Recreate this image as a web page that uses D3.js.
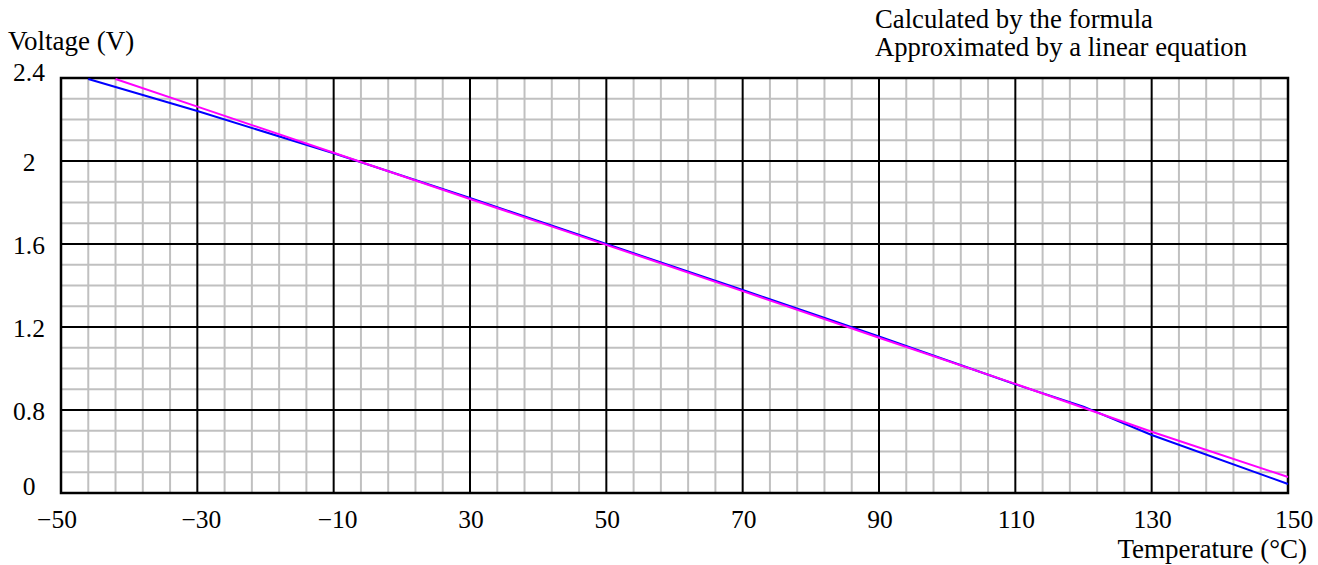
<!DOCTYPE html>
<html>
<head>
<meta charset="utf-8">
<script src="https://cdn.jsdelivr.net/npm/d3@7"></script>
<style>
  html, body { margin: 0; padding: 0; background: #fff; }
  svg { display: block; }
  text { font-family: "Liberation Serif", "DejaVu Serif", serif; fill: #000; }
</style>
</head>
<body>
<svg id="chart" width="1318" height="565"></svg>
<script>
// ---- data ----
const xTickLabels = [-50, -30, -10, 30, 50, 70, 90, 110, 130, 150];
const yTickLabels = [0, 0.8, 1.2, 1.6, 2, 2.4];

const calcTemps  = [-46, -30, -10, 30, 50, 70, 90, 110, 120, 130, 150];
const calcVolts  = [2.395, 2.241, 2.037, 1.822, 1.600, 1.378, 1.154, 0.924, 0.816, 0.559, 0.087];

const approxTemps = [-42, -30, -10, 30, 50, 70, 90, 110, 130, 150];
const approxVolts = [2.395, 2.262, 2.040, 1.817, 1.596, 1.373, 1.148, 0.926, 0.591, 0.154];

const legendLabels = ["Calculated by the formula", "Approximated by a linear equation"];
const xTitle = "Temperature (\u00B0C)";
const yTitle = "Voltage (V)";

// ---- layout ----
const plotLeft = 61, plotRight = 1288, plotTop = 78, plotBottom = 493;
const svg = d3.select("#chart");

const xStep = (plotRight - plotLeft) / (xTickLabels.length - 1);
const yStep = (plotBottom - plotTop) / (yTickLabels.length - 1);
const x = d3.scaleLinear().domain(xTickLabels).range(xTickLabels.map((d, i) => plotLeft + i * xStep));
const y = d3.scaleLinear().domain(yTickLabels).range(yTickLabels.map((d, i) => plotBottom - i * yStep));

// minor grid values
const xMinor = [];
for (let i = 0; i < xTickLabels.length - 1; i++) {
  for (let k = 1; k < 5; k++) xMinor.push(xTickLabels[i] + k * (xTickLabels[i + 1] - xTickLabels[i]) / 5);
}
const yMinor = [];
for (let i = 0; i < yTickLabels.length - 1; i++) {
  for (let k = 1; k < 4; k++) yMinor.push(yTickLabels[i] + k * (yTickLabels[i + 1] - yTickLabels[i]) / 4);
}

const grid = svg.append("g");
grid.selectAll("line.xm").data(xMinor).join("line")
  .attr("class", "xm")
  .attr("x1", d => x(d)).attr("x2", d => x(d)).attr("y1", plotTop).attr("y2", plotBottom)
  .attr("stroke", "#c0c0c0").attr("stroke-width", 2);
grid.selectAll("line.ym").data(yMinor).join("line")
  .attr("class", "ym")
  .attr("y1", d => y(d)).attr("y2", d => y(d)).attr("x1", plotLeft).attr("x2", plotRight)
  .attr("stroke", "#c0c0c0").attr("stroke-width", 2);

grid.selectAll("line.xM").data(xTickLabels).join("line")
  .attr("class", "xM")
  .attr("x1", d => x(d)).attr("x2", d => x(d)).attr("y1", plotTop).attr("y2", plotBottom)
  .attr("stroke", "#000").attr("stroke-width", 2);
grid.selectAll("line.yM").data(yTickLabels).join("line")
  .attr("class", "yM")
  .attr("y1", d => y(d)).attr("y2", d => y(d)).attr("x1", plotLeft).attr("x2", plotRight)
  .attr("stroke", "#000").attr("stroke-width", 2);

svg.append("rect").attr("x", plotLeft).attr("y", plotTop)
  .attr("width", plotRight - plotLeft).attr("height", plotBottom - plotTop)
  .attr("fill", "none").attr("stroke", "#000").attr("stroke-width", 2.5);

// ---- lines ----
const line = d3.line().x(d => x(d[0])).y(d => y(d[1]));
svg.append("path").datum(calcTemps.map((t, i) => [t, calcVolts[i]]))
  .attr("d", line).attr("fill", "none").attr("stroke", "#0000ff").attr("stroke-width", 2);
svg.append("path").datum(approxTemps.map((t, i) => [t, approxVolts[i]]))
  .attr("d", line).attr("fill", "none").attr("stroke", "#ff00ff").attr("stroke-width", 2);

// ---- tick labels ----
const fmt = d => (d < 0 ? "\u2212" + Math.abs(d) : String(d));
svg.selectAll("text.xt").data(xTickLabels).join("text")
  .attr("class", "xt")
  .attr("x", (d, i) => x(d) + (i === 0 ? -4 : (d < 0 ? 4 : (i === xTickLabels.length - 1 ? 6 : 1))))
  .attr("y", 528)
  .attr("text-anchor", "middle").attr("font-size", 25.5).text(fmt);

svg.selectAll("text.yt").data(yTickLabels).join("text")
  .attr("class", "yt")
  .attr("x", 29)
  .attr("y", (d, i) => y(d) + (i === 0 ? 2 : (i === yTickLabels.length - 1 ? 3 : 10)))
  .attr("text-anchor", "middle").attr("font-size", 25.5).text(d => String(d));

// ---- titles ----
svg.append("text").attr("x", 8).attr("y", 50).attr("font-size", 27).text(yTitle);
svg.append("text").attr("x", 1307).attr("y", 558).attr("text-anchor", "end").attr("font-size", 27).text(xTitle);

// ---- legend (text only) ----
svg.selectAll("text.lg").data(legendLabels).join("text")
  .attr("class", "lg")
  .attr("x", 875).attr("y", (d, i) => 28 + i * 28)
  .attr("font-size", 26.7).text(d => d);
</script>
</body>
</html>
